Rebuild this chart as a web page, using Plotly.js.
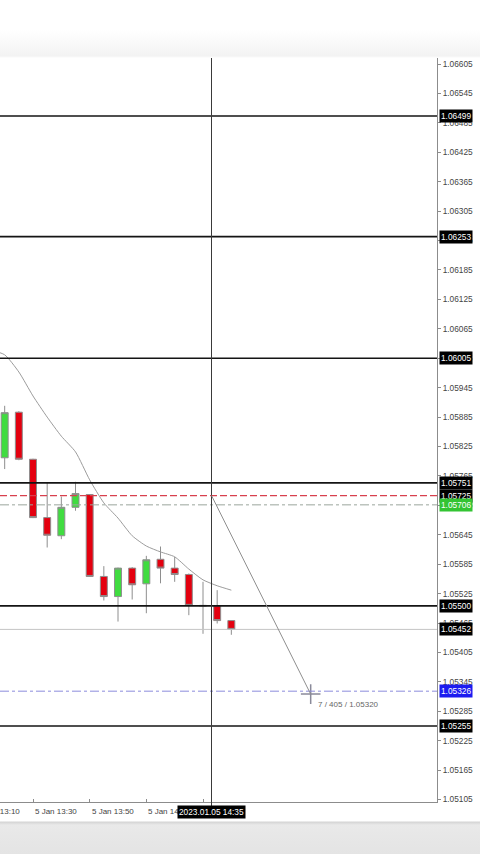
<!DOCTYPE html>
<html>
<head>
<meta charset="utf-8">
<script src="https://cdn.plot.ly/plotly-3.0.1.min.js"></script>
<style>
  html, body {
    margin: 0; padding: 0; width: 480px; height: 854px; overflow: hidden;
    background: linear-gradient(to bottom,
      #ffffff 0px, #ffffff 30px, #f3f3f3 56px, #ffffff 58px,
      #ffffff 821px, #d4d4d4 822px, #e9e9e9 825px, #e4e4e4 854px);
  }
  #chart { width: 480px; height: 854px; }
</style>
</head>
<body>
<div id="chart"></div>
<script>
// EURUSD M5, 5 Jan 2023
const barTimes = [
  '2023-01-05 13:20', '2023-01-05 13:25', '2023-01-05 13:30', '2023-01-05 13:35',
  '2023-01-05 13:40', '2023-01-05 13:45', '2023-01-05 13:50', '2023-01-05 13:55',
  '2023-01-05 14:00', '2023-01-05 14:05', '2023-01-05 14:10', '2023-01-05 14:15',
  '2023-01-05 14:20', '2023-01-05 14:25', '2023-01-05 14:30', '2023-01-05 14:35',
  '2023-01-05 14:40'
];
const opens  = [1.05802, 1.05895, 1.05799, 1.05680, 1.05643, 1.05701, 1.05727, 1.05560,
                1.05519, 1.05577, 1.05545, 1.05595, 1.05577, 1.05564, 1.05501, 1.05500, 1.05470];
const highs  = [1.05908, 1.05897, 1.05800, 1.05751, 1.05723, 1.05753, 1.05728, 1.05581,
                1.05578, 1.05579, 1.05602, 1.05621, 1.05600, 1.05566, 1.05549, 1.05532, 1.05470];
const lows   = [1.05779, 1.05797, 1.05679, 1.05619, 1.05636, 1.05694, 1.05559, 1.05511,
                1.05468, 1.05513, 1.05485, 1.05546, 1.05549, 1.05481, 1.05443, 1.05464, 1.05441];
const closes = [1.05894, 1.05799, 1.05680, 1.05644, 1.05701, 1.05729, 1.05560, 1.05519,
                1.05577, 1.05543, 1.05594, 1.05577, 1.05564, 1.05501, 1.05500, 1.05470, 1.05452];

// moving average
const maTimes = ['2023-01-05 13:15'].concat(barTimes);
const maValues = [1.06022, 1.06012, 1.05977, 1.05928, 1.05885, 1.05846, 1.05814, 1.05757,
                  1.05710, 1.05679, 1.05643, 1.05622, 1.05610, 1.05600, 1.05575, 1.05553,
                  1.05541, 1.05532];

// support / resistance levels
const levels = [1.06499, 1.06253, 1.06005, 1.05751, 1.05500, 1.05255];
const orderPrice = 1.05725;
const stopPrice = 1.05706;
const targetPrice = 1.05326;
const bidPrice = 1.05452;

// crosshair measurement
const crossTime = '2023-01-05 14:33';
const crossLabel = '2023.01.05 14:35';
const measureEndTime = '2023-01-05 15:08';
const measureEndPrice = 1.05320;
const measureText = '7 / 405 / 1.05320';

// time axis ticks and the labels shown beside them
const timeTickVals = ['2023-01-05 13:10', '2023-01-05 13:30', '2023-01-05 13:50',
                      '2023-01-05 14:10', '2023-01-05 14:30'];
const timeTickText = ['5 Jan 13:10', '5 Jan 13:30', '5 Jan 13:50', '5 Jan 14:10'];

const xRange = ['2023-01-05 13:18:21', '2023-01-05 15:52:35'];
const yRange = [1.05100, 1.066173];

const FONT = 'Liberation Sans, Arial, sans-serif';

const traces = [
  {
    type: 'scatter', mode: 'lines', x: maTimes, y: maValues,
    line: { color: '#9c9c9c', width: 1, shape: 'spline', smoothing: 0.6 },
    hoverinfo: 'skip'
  },
  {
    type: 'candlestick', x: barTimes, open: opens, high: highs, low: lows, close: closes,
    increasing: { fillcolor: '#40dc40', line: { color: '#8e8e8e', width: 1 } },
    decreasing: { fillcolor: '#e4000f', line: { color: '#8e8e8e', width: 1 } },
    whiskerwidth: 0, hoverinfo: 'skip'
  },
  {
    type: 'scatter', mode: 'markers', x: [measureEndTime], y: [measureEndPrice],
    marker: { symbol: 'cross-thin', size: 14, line: { color: '#8a8a9a', width: 1.5 } },
    hoverinfo: 'skip'
  }
];

const shapes = [];
levels.forEach(v => shapes.push({
  type: 'line', xref: 'paper', x0: 0, x1: 1, yref: 'y', y0: v, y1: v,
  line: { color: '#141414', width: 1.7 }
}));
shapes.push({ type: 'line', xref: 'paper', x0: 0, x1: 1, yref: 'y', y0: bidPrice, y1: bidPrice,
  line: { color: '#c4c4c4', width: 1 } });
shapes.push({ type: 'line', xref: 'paper', x0: 0, x1: 1, yref: 'y', y0: orderPrice, y1: orderPrice,
  line: { color: '#d8404e', width: 1.2, dash: '7px,3px' } });
shapes.push({ type: 'line', xref: 'paper', x0: 0, x1: 1, yref: 'y', y0: stopPrice, y1: stopPrice,
  line: { color: '#9aa59c', width: 1, dash: 'dashdot' } });
shapes.push({ type: 'line', xref: 'paper', x0: 0, x1: 1, yref: 'y', y0: targetPrice, y1: targetPrice,
  line: { color: '#8c8cdc', width: 1, dash: 'dashdot' } });
// crosshair vertical and measuring line
shapes.push({ type: 'line', xref: 'x', x0: crossTime, x1: crossTime, yref: 'paper', y0: -0.012, y1: 1,
  line: { color: '#3a3a3a', width: 1 } });
shapes.push({ type: 'line', xref: 'x', x0: crossTime, x1: measureEndTime, yref: 'y',
  y0: orderPrice, y1: measureEndPrice, line: { color: '#8f8f8f', width: 1 } });

const annotations = [];
// date labels, left-aligned at their tick
const t0 = new Date(xRange[0].replace(' ', 'T')).getTime();
const t1 = new Date(xRange[1].replace(' ', 'T')).getTime();
timeTickText.forEach((label, i) => {
  const frac = (new Date(timeTickVals[i].replace(' ', 'T')).getTime() - t0) / (t1 - t0);
  annotations.push({
    xref: 'paper', x: frac, xanchor: 'left', yref: 'paper', y: 0, yanchor: 'top', yshift: -3,
    text: label, showarrow: false, font: { family: FONT, size: 8, color: '#444' }
  });
});

function priceTag(v, bg) {
  return {
    xref: 'paper', x: 1, xanchor: 'left', xshift: 2, yref: 'y', y: v, yanchor: 'middle',
    text: v.toFixed(5), showarrow: false, bgcolor: bg, borderpad: 1,
    font: { family: FONT, size: 8.3, color: '#ffffff' }
  };
}
levels.forEach(v => annotations.push(priceTag(v, '#000000')));
annotations.push(priceTag(orderPrice, '#000000'));
annotations.push(priceTag(stopPrice, '#33c433'));
annotations.push(priceTag(bidPrice, '#000000'));
annotations.push(priceTag(targetPrice, '#1c1cf0'));

annotations.push({
  xref: 'x', x: measureEndTime, xanchor: 'left', xshift: 5, yref: 'y', y: measureEndPrice,
  yanchor: 'middle', yshift: -10, text: measureText, showarrow: false,
  font: { family: FONT, size: 8, color: '#666' }
});
annotations.push({
  xref: 'x', x: crossTime, xanchor: 'center', yref: 'paper', y: 0, yanchor: 'top', yshift: -3,
  text: crossLabel, showarrow: false, bgcolor: '#000000', borderpad: 1,
  font: { family: FONT, size: 8.3, color: '#ffffff' }
});

const layout = {
  width: 480, height: 854,
  margin: { l: 0, r: 43, t: 58, b: 52, pad: 0 },
  paper_bgcolor: 'rgba(0,0,0,0)',
  plot_bgcolor: '#ffffff',
  showlegend: false,
  hovermode: false,
  xaxis: {
    type: 'date', range: xRange, rangeslider: { visible: false },
    showgrid: false, zeroline: false, showline: true, linecolor: '#8c8c8c', linewidth: 1,
    ticks: 'inside', ticklen: 3, tickcolor: '#8c8c8c',
    tickmode: 'array', tickvals: timeTickVals, showticklabels: false, fixedrange: true
  },
  yaxis: {
    side: 'right', range: yRange, tickmode: 'linear', tick0: 1.05105, dtick: 0.0006,
    tickformat: '.5f', showgrid: false, zeroline: false,
    showline: true, linecolor: '#8c8c8c', linewidth: 1,
    ticks: 'outside', ticklen: 3, tickcolor: '#8c8c8c',
    tickfont: { family: FONT, size: 8.3, color: '#444' }, fixedrange: true
  },
  shapes: shapes,
  annotations: annotations
};

Plotly.newPlot('chart', traces, layout, { staticPlot: true, displayModeBar: false });
</script>
</body>
</html>
